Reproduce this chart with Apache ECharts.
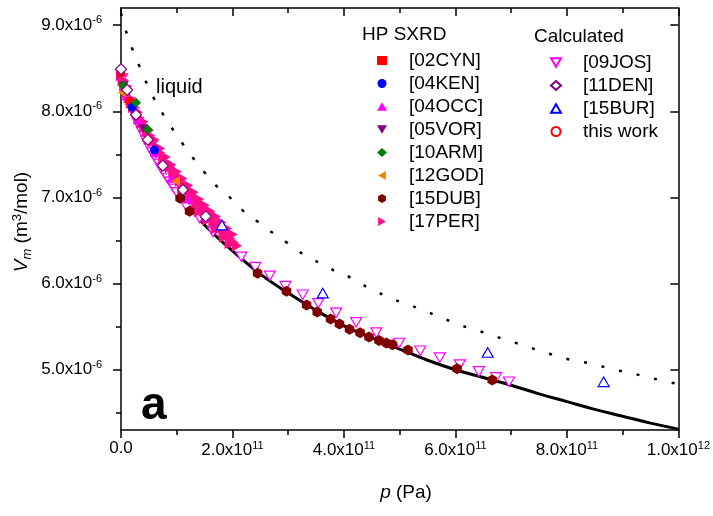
<!DOCTYPE html>
<html>
<head>
<meta charset="utf-8">
<script src="https://cdn.jsdelivr.net/npm/echarts@6/dist/echarts.min.js"></script>
<style>html,body{margin:0;padding:0;background:#fff}#c{width:713px;height:516px}</style>
</head>
<body>
<div id="c"></div>
<script>
// Units: p in 1e11 Pa, V in 1e-6 m^3/mol
const xTicks = [0, 2, 4, 6, 8, 10];
const yMajor = [5, 6, 7, 8, 9];
const yMinor = [4.5, 5.5, 6.5, 7.5, 8.5];

const hpNames = ['[02CYN]', '[04KEN]', '[04OCC]', '[05VOR]', '[10ARM]', '[12GOD]', '[15DUB]', '[17PER]'];
const calcNames = ['[09JOS]', '[11DEN]', '[15BUR]', 'this work'];

const fitCurve = [[0,8.45],[0.25,7.99],[0.5,7.65],[0.75,7.37],[1.0,7.13],[1.25,6.88],[1.5,6.68],[2.0,6.38],[2.5,6.11],[3.0,5.89],[3.5,5.69],[4.0,5.51],[4.5,5.37],[5.0,5.24],[5.5,5.11],[6.0,5.00],[6.5,4.91],[7.0,4.82],[7.5,4.72],[8.0,4.63],[8.5,4.54],[9.0,4.46],[9.5,4.38],[10.0,4.31]];
const liquidCurve = [[0,9.14],[0.09,8.93],[0.20,8.73],[0.32,8.54],[0.45,8.34],[0.59,8.15],[0.75,7.97],[0.93,7.79],[1.11,7.62],[1.29,7.46],[1.50,7.29],[1.72,7.13],[1.97,6.99],[2.20,6.84],[2.45,6.72],[2.72,6.59],[2.99,6.47],[3.27,6.34],[3.56,6.24],[3.86,6.14],[4.15,6.06],[4.44,5.95],[4.74,5.86],[5.04,5.78],[5.35,5.71],[5.65,5.63],[5.96,5.55],[6.26,5.48],[6.57,5.42],[6.89,5.35],[7.19,5.29],[7.51,5.22],[7.82,5.16],[8.16,5.10],[8.46,5.07],[8.78,5.01],[9.09,4.97],[9.41,4.92],[9.73,4.87],[9.95,4.84]];

const d02CYN = [[0.0,8.45],[0.15,8.12]];
const d04KEN = [[0.2,8.05],[0.6,7.55]];
const d04OCC = [[0.1,8.18],[0.3,7.90],[0.6,7.52],[0.9,7.22],[1.2,6.98]];
const d05VOR = [[0.05,8.30],[0.4,7.80]];
const d10ARM = [[0.04,8.30],[0.27,8.10],[0.48,7.79]];
const d12GOD = [[0.02,8.22],[0.98,7.19]];
const d15DUB = [[1.06,6.99],[1.23,6.84],[2.45,6.12],[2.97,5.91],[3.33,5.75],[3.52,5.67],[3.76,5.59],[3.92,5.53],[4.10,5.47],[4.29,5.43],[4.45,5.38],[4.63,5.34],[4.76,5.31],[4.87,5.29],[5.15,5.23],[6.03,5.01],[6.66,4.88]];
const d17PER = [[0.0,8.42],[0.03,8.36],[0.06,8.30],[0.1,8.22],[0.14,8.16],[0.18,8.10],[0.22,8.05],[0.27,8.00],[0.32,7.93],[0.37,7.87],[0.42,7.82],[0.47,7.77],[0.52,7.72],[0.58,7.65],[0.64,7.58],[0.70,7.52],[0.76,7.46],[0.82,7.40],[0.88,7.35],[0.94,7.30],[1.0,7.24],[1.06,7.19],[1.12,7.14],[1.18,7.08],[1.24,7.03],[1.30,6.98],[1.36,6.93],[1.42,6.89],[1.48,6.85],[1.54,6.80],[1.60,6.76],[1.66,6.72],[1.72,6.68],[1.78,6.64],[1.84,6.60],[1.90,6.56],[1.96,6.52],[2.02,6.48],[2.08,6.44],
  [0.05,8.36],[0.12,8.24],[0.2,8.12],[0.3,7.99],[0.4,7.88],[0.5,7.78],[0.6,7.67],[0.7,7.57],[0.8,7.47],[0.9,7.38],[1.0,7.30],[1.1,7.22],[1.2,7.14],[1.3,7.06],[1.4,6.98],[1.5,6.91],[1.6,6.84],[1.7,6.78],[1.8,6.71],[1.9,6.64],[2.0,6.57],
  [0.5,7.68],[0.8,7.36],[1.1,7.10],[1.4,6.84],[1.7,6.64],[1.95,6.47],[1.55,6.74],[1.85,6.54]];
const d09JOS = [[0.02,8.38],[0.08,8.24],[0.15,8.10],[0.22,7.99],[0.30,7.87],[0.34,7.81],[0.38,7.76],[0.42,7.71],[0.45,7.66],[0.49,7.61],[0.52,7.57],[0.56,7.52],[0.60,7.48],[0.64,7.43],[0.68,7.39],[0.72,7.34],[0.76,7.30],[0.80,7.26],[0.84,7.22],[0.88,7.18],[0.92,7.14],[0.96,7.10],[1.00,7.06],[1.18,6.89],[1.41,6.76],[1.65,6.60],[2.16,6.31],[2.41,6.19],[2.67,6.09],[2.95,5.97],[3.26,5.87],[3.54,5.77],[3.86,5.66],[4.22,5.55],[4.58,5.43],[4.99,5.31],[5.37,5.22],[5.72,5.14],[6.08,5.06],[6.42,4.98],[6.73,4.91],[6.96,4.86]];
const d11DEN = [[0.0,8.49],[0.11,8.25],[0.27,7.96],[0.48,7.67],[0.75,7.37],[1.11,7.09],[1.52,6.78]];
const d15BUR = [[1.81,6.68],[3.62,5.89],[6.58,5.20],[8.66,4.86]];
const dThisWork = [];

const FONT = "'Liberation Sans', Arial, sans-serif";
const HEX = 'path://M0,-10 L8.66,-5 L8.66,5 L0,10 L-8.66,5 L-8.66,-5 Z';
const TRI_UP = 'path://M5,0 L10,8.66 L0,8.66 Z';
const TRI_DOWN = 'path://M0,0 L10,0 L5,8.66 Z';
const TRI_LEFT = 'path://M8.66,0 L8.66,10 L0,5 Z';
const TRI_RIGHT = 'path://M0,0 L0,10 L8.66,5 Z';

const rich = {
  b: {fontSize: 17, fontFamily: FONT, color: '#000'},
  s: {fontSize: 11, fontFamily: FONT, color: '#000', padding: [0, 0, 10, 0]}
};

function xFmt(v) {
  if (v === 0) return '{b|0.0}';
  if (v === 10) return '{b|1.0x10}{s|12}';
  return '{b|' + v.toFixed(1) + 'x10}{s|11}';
}
function yFmt(v) {
  return '{b|' + v.toFixed(1) + 'x10}{s|-6}';
}

const axLine = {show: true, onZero: false, lineStyle: {color: '#000', width: 1.5}};

function sc(name, data, symbol, size, color) {
  return {
    name: name, type: 'scatter', data: data, symbol: symbol, symbolSize: size, symbolKeepAspect: true,
    itemStyle: {color: color, opacity: 1}, emphasis: {disabled: true}, animation: false
  };
}
function hollow(name, data, symbol, size, color) {
  return {
    name: name, type: 'scatter', data: data, symbol: symbol, symbolSize: size, symbolKeepAspect: true,
    itemStyle: {color: '#fff', borderColor: color, borderWidth: 1.2, opacity: 1}, emphasis: {disabled: true}, animation: false
  };
}

const legendText = {fontSize: 19, fontFamily: FONT, color: '#000', padding: [0, 0, 0, 17]};

const chart = echarts.init(document.getElementById('c'), null, {renderer: 'canvas'});
chart.setOption({
  backgroundColor: '#fff',
  animation: false,
  grid: {left: 121, right: 33, top: 8, bottom: 86},
  xAxis: [
    {type: 'value', min: 0, max: 10, interval: 2, position: 'bottom',
     axisLine: axLine, axisTick: {show: true, length: 8, lineStyle: {color: '#000', width: 1.5}},
     minorTick: {show: true, splitNumber: 2, length: 5, lineStyle: {color: '#000', width: 1.5}},
     axisLabel: {formatter: xFmt, rich: rich, margin: 10}, splitLine: {show: false}},
    {type: 'value', min: 0, max: 10, interval: 2, position: 'top',
     axisLine: axLine, axisTick: {show: true, inside: true, length: 8, lineStyle: {color: '#000', width: 1.5}},
     minorTick: {show: true, splitNumber: 2, length: 5, lineStyle: {color: '#000', width: 1.5}},
     axisLabel: {show: false}, splitLine: {show: false}}
  ],
  yAxis: [
    {type: 'value', min: 4.3, max: 9.2, position: 'left',
     axisLine: axLine, axisTick: {show: true, length: 8, customValues: yMajor, lineStyle: {color: '#000', width: 1.5}},
     axisLabel: {customValues: yMajor, formatter: yFmt, rich: rich, margin: 19}, splitLine: {show: false}},
    {type: 'value', min: 4.3, max: 9.2, position: 'left',
     axisLine: {show: false}, axisTick: {show: true, length: 5, customValues: yMinor, lineStyle: {color: '#000', width: 1.5}},
     axisLabel: {show: false}, splitLine: {show: false}},
    {type: 'value', min: 4.3, max: 9.2, position: 'right',
     axisLine: axLine, axisTick: {show: true, inside: true, length: 8, customValues: yMajor, lineStyle: {color: '#000', width: 1.5}},
     axisLabel: {show: false}, splitLine: {show: false}},
    {type: 'value', min: 4.3, max: 9.2, position: 'right',
     axisLine: {show: false}, axisTick: {show: true, inside: true, length: 5, customValues: yMinor, lineStyle: {color: '#000', width: 1.5}},
     axisLabel: {show: false}, splitLine: {show: false}}
  ],
  legend: [
    {data: hpNames, orient: 'vertical', left: 377, top: 51, padding: 0, itemWidth: 10, itemHeight: 9, itemGap: 4,
     selectedMode: false, textStyle: legendText},
    {data: calcNames, orient: 'vertical', left: 550, top: 53, padding: 0, itemWidth: 10, itemHeight: 9, itemGap: 4,
     selectedMode: false, textStyle: legendText}
  ],
  graphic: [
    {type: 'text', left: 362, top: 25, style: {text: 'HP SXRD', font: '19px ' + FONT, fill: '#000'}},
    {type: 'text', left: 534, top: 27, style: {text: 'Calculated', font: '19px ' + FONT, fill: '#000'}},
    {type: 'text', left: 156, top: 77, style: {text: 'liquid', font: '20px ' + FONT, fill: '#000'}},
    {type: 'text', left: 141, top: 383, style: {text: 'a', font: 'bold 46px ' + FONT, fill: '#000'}},
    {type: 'text', x: 22, y: 222, rotation: Math.PI / 2,
     style: {text: '{i|V}{sub|m} (m{sup|3}/mol)', align: 'center', verticalAlign: 'middle',
       rich: {
         i: {fontSize: 19, fontStyle: 'italic', fontFamily: FONT, fill: '#000'},
         sub: {fontSize: 13, fontStyle: 'italic', fontFamily: FONT, fill: '#000', padding: [10, 0, 0, 0]},
         sup: {fontSize: 13, fontFamily: FONT, fill: '#000', padding: [0, 0, 10, 0]},
         '': {}
       },
       font: '19px ' + FONT, fill: '#000'}},
    {type: 'text', x: 406, y: 493,
     style: {text: '{i|p} (Pa)', align: 'center', verticalAlign: 'middle', font: '19px ' + FONT, fill: '#000',
       rich: {i: {fontSize: 19, fontStyle: 'italic', fontFamily: FONT, fill: '#000'}}}}
  ],
  series: [
    {name: 'fit', type: 'line', data: fitCurve, smooth: 0.4, symbol: 'none', lineStyle: {color: '#000', width: 3}, z: 1, animation: false},
    {name: 'liquidLine', type: 'line', data: liquidCurve, smooth: 0.4, symbol: 'none', lineStyle: {color: '#000', width: 2.5, type: [3, 15]}, z: 1, animation: false},
    hollow('[09JOS]', d09JOS, TRI_DOWN, 11, '#FF00FF'),
    sc('[17PER]', d17PER, TRI_RIGHT, 12, '#FF0F87'),
    sc('[04OCC]', d04OCC, TRI_UP, 10, '#FF00FF'),
    sc('[02CYN]', d02CYN, 'rect', 8, '#FF0000'),
    sc('[04KEN]', d04KEN, 'circle', 9, '#0000FF'),
    sc('[05VOR]', d05VOR, TRI_DOWN, 10, '#800080'),
    sc('[10ARM]', d10ARM, 'diamond', 10, '#008000'),
    sc('[12GOD]', d12GOD, TRI_LEFT, 10, '#FF8000'),
    sc('[15DUB]', d15DUB, HEX, 11, '#800000'),
    hollow('[11DEN]', d11DEN, 'diamond', 11, '#800080'),
    hollow('[15BUR]', d15BUR, TRI_UP, 11, '#0000FF'),
    hollow('this work', dThisWork, 'circle', 9, '#FF0000')
  ]
});
</script>
</body>
</html>
